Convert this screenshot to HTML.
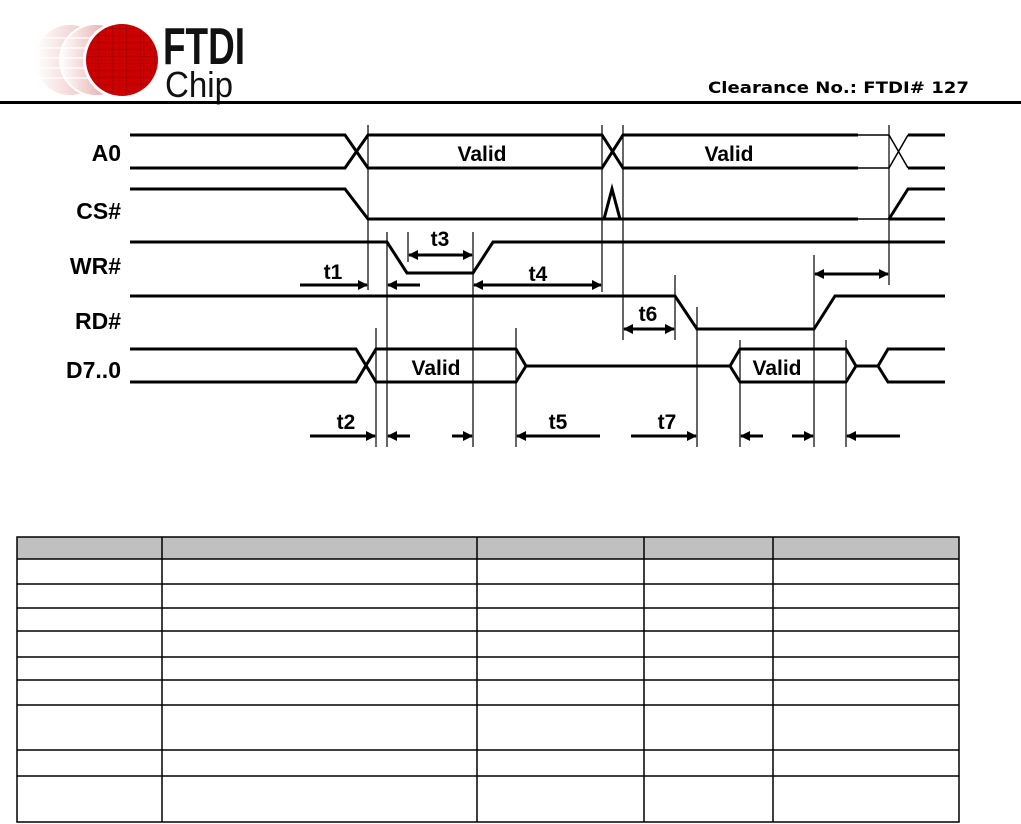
<!DOCTYPE html>
<html><head><meta charset="utf-8"><style>
html,body{margin:0;padding:0;background:#fff;width:1021px;height:824px;overflow:hidden}
svg{display:block}
</style></head><body>
<svg width="1021" height="824" viewBox="0 0 1021 824" xmlns="http://www.w3.org/2000/svg">
<defs>
<marker id="ah" markerWidth="10" markerHeight="10" refX="9" refY="5" orient="auto" markerUnits="userSpaceOnUse">
<path d="M0,0 L10,5 L0,10 Z" fill="#000"/></marker>
<marker id="as" markerWidth="10" markerHeight="10" refX="1" refY="5" orient="auto" markerUnits="userSpaceOnUse">
<path d="M10,0 L0,5 L10,10 Z" fill="#000"/></marker>
<linearGradient id="fade" x1="0" x2="1"><stop offset="0" stop-color="#fff"/><stop offset="1" stop-color="#d98080"/></linearGradient>
<pattern id="grid" width="7" height="7" patternUnits="userSpaceOnUse"><rect width="7" height="7" fill="#c00"/><path d="M0,0H7M0,0V7" stroke="#900" stroke-width="1"/></pattern>
</defs>
<!-- logo -->
<circle cx="70" cy="60" r="35" fill="url(#fade)" opacity="0.6"/>
<circle cx="96" cy="60" r="36" fill="url(#fade)"/>
<circle cx="96" cy="60" r="36" fill="none" stroke="#fff" stroke-width="2"/>
<g stroke="#fff" stroke-width="1.5" opacity="0.8"><line x1="35" y1="38" x2="90" y2="38"/><line x1="35" y1="48" x2="90" y2="48"/><line x1="35" y1="58" x2="90" y2="58"/><line x1="35" y1="68" x2="90" y2="68"/><line x1="35" y1="78" x2="90" y2="78"/></g>
<circle cx="122" cy="60" r="39" fill="#fff"/>
<circle cx="122" cy="60" r="36" fill="url(#grid)"/>
<text x="163" y="64" font-family="Liberation Sans, sans-serif" font-size="52" font-weight="bold" fill="#111" textLength="82" lengthAdjust="spacingAndGlyphs">FTDI</text>
<text x="165" y="97" font-family="Liberation Sans, sans-serif" font-size="36" fill="#111" textLength="68" lengthAdjust="spacingAndGlyphs">Chip</text>
<text x="708" y="93" font-family="DejaVu Sans, sans-serif" font-size="16" font-weight="bold" fill="#000" textLength="261" lengthAdjust="spacingAndGlyphs">Clearance No.: FTDI# 127</text>
<rect x="0" y="101" width="1021" height="3" fill="#000"/>

<!-- signal labels -->
<g font-family="Liberation Sans, sans-serif" font-size="23" font-weight="bold" text-anchor="end" fill="#000">
<text x="121" y="161">A0</text><text x="121" y="219">CS#</text><text x="121" y="274">WR#</text><text x="121" y="329">RD#</text><text x="121" y="378">D7..0</text>
</g>

<g stroke="#000" stroke-width="3" fill="none" stroke-linejoin="miter">
<!-- A0 -->
<polyline points="130,135 345,135 368,168 602,168 623,135 858,135"/>
<polyline points="130,168 345,168 368,135 602,135 623,168 858,168"/>
<polyline points="908,135 945,135"/><polyline points="908,168 945,168"/>
<!-- CS -->
<polyline points="130,189 345,189 368,219 858,219"/>
<polyline points="889,219 945,219"/>
<polyline points="604,219 612,189 620,219"/>
<polyline points="889,219 908,189 945,189"/>
<!-- WR -->
<polyline points="130,242 387,242 407,273 473,273 493,242 945,242"/>
<!-- RD -->
<polyline points="130,296 675,296 697,329 814,329 835,296 945,296"/>
<!-- D -->
<polyline points="130,349 356,349 376,382 516,382 526,366 730,366 740,349 846,349 856,366 878,366 888,349 945,349"/>
<polyline points="130,382 356,382 376,349 516,349 526,366"/>
<polyline points="730,366 740,382 846,382 856,366"/>
<polyline points="878,366 888,382 945,382"/>
</g>
<g stroke="#000" stroke-width="1.5">
<line x1="858" y1="135" x2="889" y2="135"/><line x1="858" y1="168" x2="889" y2="168"/><line x1="889" y1="135" x2="908" y2="168"/><line x1="889" y1="168" x2="908" y2="135"/>
<line x1="858" y1="219" x2="889" y2="219"/>
</g>
<!-- vertical guide lines -->
<g stroke="#000" stroke-width="1.2">
<line x1="368" y1="125" x2="368" y2="290"/>
<line x1="602" y1="125" x2="602" y2="292"/>
<line x1="623" y1="125" x2="623" y2="340"/>
<line x1="889" y1="125" x2="889" y2="285"/>
<line x1="387" y1="232" x2="387" y2="447"/>
<line x1="473" y1="232" x2="473" y2="447"/>
<line x1="408" y1="232" x2="408" y2="262"/>
<line x1="376" y1="328" x2="376" y2="447"/>
<line x1="516" y1="328" x2="516" y2="447"/>
<line x1="675" y1="275" x2="675" y2="340"/>
<line x1="697" y1="307" x2="697" y2="447"/>
<line x1="740" y1="340" x2="740" y2="447"/>
<line x1="814" y1="255" x2="814" y2="447"/>
<line x1="846" y1="340" x2="846" y2="447"/>
</g>
<!-- arrows -->
<g stroke="#000" stroke-width="3" fill="none">
<line x1="300" y1="285" x2="367" y2="285" marker-end="url(#ah)"/>
<line x1="420" y1="285" x2="388" y2="285" marker-end="url(#ah)"/>
<line x1="409" y1="255" x2="472" y2="255" marker-start="url(#as)" marker-end="url(#ah)"/>
<line x1="474" y1="285" x2="601" y2="285" marker-start="url(#as)" marker-end="url(#ah)"/>
<line x1="624" y1="329" x2="674" y2="329" marker-start="url(#as)" marker-end="url(#ah)"/>
<line x1="815" y1="274" x2="888" y2="274" marker-start="url(#as)" marker-end="url(#ah)"/>
<line x1="310" y1="436" x2="375" y2="436" marker-end="url(#ah)"/>
<line x1="410" y1="436" x2="388" y2="436" marker-end="url(#ah)"/>
<line x1="452" y1="436" x2="472" y2="436" marker-end="url(#ah)"/>
<line x1="600" y1="436" x2="517" y2="436" marker-end="url(#ah)"/>
<line x1="631" y1="436" x2="696" y2="436" marker-end="url(#ah)"/>
<line x1="763" y1="436" x2="741" y2="436" marker-end="url(#ah)"/>
<line x1="792" y1="436" x2="813" y2="436" marker-end="url(#ah)"/>
<line x1="900" y1="436" x2="847" y2="436" marker-end="url(#ah)"/>
</g>
<g font-family="Liberation Sans, sans-serif" font-size="21" font-weight="bold" fill="#000" text-anchor="middle">
<text x="482" y="161">Valid</text><text x="729" y="161">Valid</text>
<text x="436" y="375">Valid</text><text x="777" y="375">Valid</text>
<text x="333" y="279">t1</text><text x="440" y="246">t3</text><text x="538" y="281">t4</text>
<text x="648" y="321">t6</text><text x="346" y="429">t2</text><text x="558" y="429">t5</text><text x="667" y="429">t7</text>
</g>

<!-- table -->
<rect x="17" y="537" width="942" height="22" fill="#c0c0c0"/>
<g stroke="#000" stroke-width="1.5" fill="none">
<rect x="17" y="537" width="942" height="285"/>
<line x1="17" y1="559" x2="959" y2="559"/>
<line x1="17" y1="584" x2="959" y2="584"/>
<line x1="17" y1="608" x2="959" y2="608"/>
<line x1="17" y1="631" x2="959" y2="631"/>
<line x1="17" y1="657" x2="959" y2="657"/>
<line x1="17" y1="680" x2="959" y2="680"/>
<line x1="17" y1="705" x2="959" y2="705"/>
<line x1="17" y1="750" x2="959" y2="750"/>
<line x1="17" y1="776" x2="959" y2="776"/>
<line x1="162" y1="537" x2="162" y2="822"/>
<line x1="477" y1="537" x2="477" y2="822"/>
<line x1="644" y1="537" x2="644" y2="822"/>
<line x1="773" y1="537" x2="773" y2="822"/>
</g>
</svg>
</body></html>
